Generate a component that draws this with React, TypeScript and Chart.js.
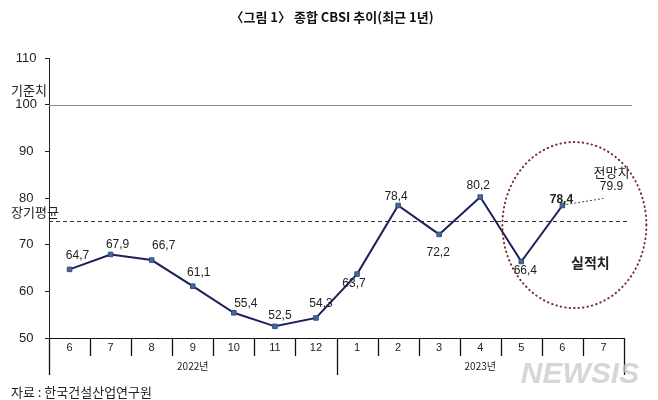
import React, { useEffect, useRef } from "react";
import { Chart, registerables } from "chart.js";

Chart.register(...registerables);

const categories = ["6", "7", "8", "9", "10", "11", "12", "1", "2", "3", "4", "5", "6", "7"];
const cbsi: (number | null)[] = [64.7, 67.9, 66.7, 61.1, 55.4, 52.5, 54.3, 63.7, 78.4, 72.2, 80.2, 66.4, 78.4, null];
const yearLabels = ["2022년", "2023년"];
const yearStarts = [0, 7];
const baselineValue = 100;
const longTermAvg = 75;
const forecastValue = 79.9;
const forecastIndex = 13;
const actualIndex = 12;
// label nudges (px) relative to each point
const labelOffsets: [number, number][] = [
  [8, -14], [7, -10], [12, -14], [6, -14], [12, -9], [5, -11], [5, -14],
  [-3, 10], [-2, -9], [-1, 18], [-2, -11], [4, 9], [-1, -6],
];

const FONT = "'Liberation Sans', 'Noto Sans CJK KR', sans-serif";
const KFONT = "'Noto Sans CJK KR', 'Liberation Sans', sans-serif";

const decorPlugin = {
  id: "decor",
  beforeDatasetsDraw(chart: any) {
    const { ctx, chartArea, scales } = chart;
    const y = scales.y;
    ctx.save();
    // baseline 100
    ctx.strokeStyle = "#8a8a8a";
    ctx.lineWidth = 1;
    ctx.beginPath();
    const yb = Math.round(y.getPixelForValue(baselineValue)) + 0.5;
    ctx.moveTo(chartArea.left, yb);
    ctx.lineTo(chartArea.right + 8, yb);
    ctx.stroke();
    // long-term average
    ctx.strokeStyle = "#333";
    ctx.setLineDash([4, 3]);
    ctx.beginPath();
    const ya = Math.round(y.getPixelForValue(longTermAvg)) + 0.5;
    ctx.moveTo(chartArea.left, ya);
    ctx.lineTo(chartArea.right + 4, ya);
    ctx.stroke();
    ctx.restore();
  },
  afterDatasetsDraw(chart: any) {
    const { ctx, chartArea, scales } = chart;
    const x = scales.x;
    const y = scales.y;
    const px = (i: number) => x.getPixelForValue(i);
    const catW = px(1) - px(0);
    const bottom = chartArea.bottom;
    ctx.save();

    // title
    ctx.fillStyle = "#111";
    ctx.font = `bold 13px ${KFONT}`;
    ctx.textAlign = "center";
    ctx.textBaseline = "middle";
    ctx.fillText("〈그림 1〉 종합 CBSI 추이(최근 1년)", 332, 17);

    // side labels
    ctx.font = `13px ${KFONT}`;
    ctx.textAlign = "left";
    ctx.fillStyle = "#222";
    ctx.fillText("기준치", 11, y.getPixelForValue(baselineValue) - 15);
    ctx.fillText("장기평균", 11, y.getPixelForValue(longTermAvg) - 9);

    // x axis line
    ctx.strokeStyle = "#111";
    ctx.lineWidth = 1;
    ctx.beginPath();
    ctx.moveTo(chartArea.left, Math.round(bottom) + 0.5);
    ctx.lineTo(chartArea.right, Math.round(bottom) + 0.5);
    ctx.stroke();

    // separators
    ctx.lineWidth = 1.3;
    for (let i = 0; i <= categories.length; i++) {
      const sx = Math.round(px(i) - catW / 2) + 0.5;
      const isLong = i === 0 || i === categories.length || yearStarts.includes(i);
      ctx.beginPath();
      ctx.moveTo(sx, bottom);
      ctx.lineTo(sx, bottom + (isLong ? 37 : 18));
      ctx.stroke();
    }

    // month labels
    ctx.fillStyle = "#222";
    ctx.font = `11px ${FONT}`;
    ctx.textAlign = "center";
    categories.forEach((c, i) => ctx.fillText(c, px(i), bottom + 10));

    // year labels
    ctx.font = `10px ${KFONT}`;
    yearLabels.forEach((lab, k) => {
      const s = yearStarts[k];
      const e = k + 1 < yearStarts.length ? yearStarts[k + 1] - 1 : categories.length - 1;
      ctx.fillText(lab, (px(s) + px(e)) / 2, bottom + 28);
    });

    // data labels
    const meta = chart.getDatasetMeta(0);
    ctx.font = `12px ${FONT}`;
    cbsi.forEach((v, i) => {
      if (v == null) return;
      const pt = meta.data[i];
      const [dx, dy] = labelOffsets[i] || [0, -12];
      ctx.font = i === actualIndex ? `bold 12px ${FONT}` : `12px ${FONT}`;
      ctx.fillStyle = "#222";
      ctx.fillText(v.toFixed(1).replace(".", ","), pt.x + dx, pt.y + dy);
    });

    // forecast leader line and labels
    const ap = meta.data[actualIndex];
    const fx = px(forecastIndex);
    const fy = y.getPixelForValue(forecastValue);
    ctx.strokeStyle = "#444";
    ctx.lineWidth = 1;
    ctx.setLineDash([2, 2]);
    ctx.beginPath();
    ctx.moveTo(ap.x + 4, ap.y - 1);
    ctx.lineTo(fx, fy);
    ctx.stroke();
    ctx.setLineDash([]);
    ctx.fillStyle = "#222";
    ctx.font = `13px ${KFONT}`;
    ctx.fillText("전망치", fx + 8, fy - 26);
    ctx.font = `12px ${FONT}`;
    ctx.fillText(forecastValue.toFixed(1), fx + 8, fy - 12);

    // dotted ellipse
    ctx.strokeStyle = "#7d2b2b";
    ctx.lineWidth = 2;
    ctx.lineCap = "round";
    ctx.setLineDash([0.5, 4]);
    ctx.beginPath();
    ctx.ellipse(px(actualIndex) + 12, y.getPixelForValue(74.2), 72, 83, 0, 0, Math.PI * 2);
    ctx.stroke();
    ctx.setLineDash([]);

    // 실적치
    ctx.fillStyle = "#222";
    ctx.font = `bold 14px ${KFONT}`;
    ctx.fillText("실적치", px(actualIndex) + 28, y.getPixelForValue(66.2));

    // footer
    ctx.textAlign = "left";
    ctx.font = `13px ${KFONT}`;
    ctx.fillStyle = "#222";
    ctx.fillText("자료 : 한국건설산업연구원", 11, 392);

    // watermark
    ctx.textAlign = "center";
    ctx.font = `italic bold 30px ${FONT}`;
    ctx.fillStyle = "rgba(200,200,200,0.75)";
    ctx.fillText("NEWSIS", 580, 375);

    ctx.restore();
  },
};

export default function App() {
  const ref = useRef<HTMLCanvasElement | null>(null);
  useEffect(() => {
    if (!ref.current) return;
    const chart = new Chart(ref.current, {
      type: "line",
      data: {
        labels: categories,
        datasets: [
          {
            data: cbsi,
            borderColor: "#1c1f5a",
            borderWidth: 2,
            pointStyle: "rect",
            pointRadius: 3.2,
            pointBackgroundColor: "#47699a",
            pointBorderColor: "#2f4d7d",
            pointBorderWidth: 1,
            tension: 0,
            spanGaps: false,
          },
        ],
      },
      options: {
        responsive: false,
        maintainAspectRatio: false,
        devicePixelRatio: 1,
        animation: false,
        layout: { padding: { top: 58, right: 34, bottom: 62, left: 0 } },
        plugins: { legend: { display: false }, tooltip: { enabled: false }, title: { display: false } },
        scales: {
          x: { display: false, offset: true },
          y: {
            min: 50,
            max: 110,
            ticks: { stepSize: 10, crossAlign: "center", padding: 8, color: "#222", font: { size: 13, family: FONT } },
            grid: { drawOnChartArea: false, tickLength: 4, color: "#222" },
            border: { color: "#222", width: 1 },
            afterFit: (s: any) => {
              s.width = 49;
            },
          },
        },
      },
      plugins: [decorPlugin],
    } as any);
    return () => chart.destroy();
  }, []);
  return (
    <div style={{ position: "fixed", left: 0, top: 0, width: 658, height: 400, background: "#fff" }}>
      <canvas ref={ref} width={658} height={400} />
    </div>
  );
}
